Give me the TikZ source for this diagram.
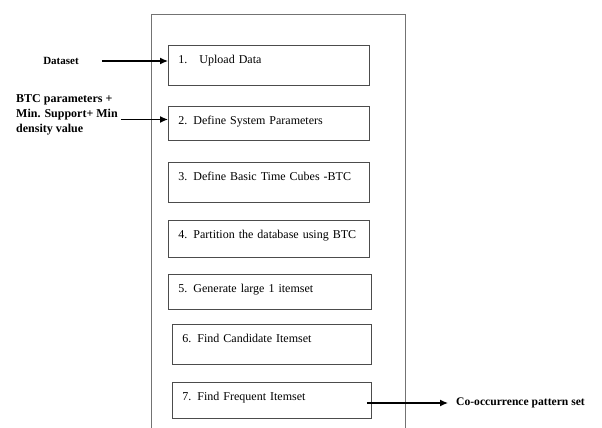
\documentclass[tikz,border=0pt]{standalone}
\usepackage{fontspec}
\setmainfont{Liberation Serif}
\usetikzlibrary{arrows.meta}

\begin{document}
\begin{tikzpicture}[x=1pt, y=-1pt,
    stepbox/.style={draw=black!70, line width=0.9pt, anchor=north west, align=left,
      inner xsep=10pt, inner ysep=0pt, text height=18pt,
      font=\fontsize{12}{14}\selectfont},
    sidelabel/.style={font=\fontsize{11}{15}\selectfont\bfseries, inner sep=0pt},
    flow/.style={-{Latex[length=8pt,width=7pt]}, line width=1.3pt}]

\useasboundingbox (0,0) rectangle (602,428);

% Outer frame (runs off the bottom)
\draw[black!55, line width=0.9pt] (151,428) -- (151,14) -- (405,14) -- (405,428);

% Steps
\node[stepbox, text width=181pt, text depth=22pt] (upload)    at (168,45)  {1.\hspace{12pt}Upload Data};
\node[stepbox, text width=181pt, text depth=16pt] (sysparam)  at (168,106) {2. Define System Parameters};
\node[stepbox, text width=181pt, text depth=22pt] (btc)       at (168,162) {3. Define Basic Time Cubes -BTC};
\node[stepbox, text width=181pt, text depth=19pt] (partition) at (168,220) {4. Partition the database using BTC};
\node[stepbox, text width=183pt, text depth=17pt] (large)     at (168,274) {5. Generate large 1 itemset};
\node[stepbox, text width=179pt, text depth=22pt] (candidate) at (172,324) {6. Find Candidate Itemset};
\node[stepbox, text width=179pt, text depth=18pt] (frequent)  at (172,382) {7. Find Frequent Itemset};

% Inputs and output
\node[sidelabel] (dataset) at (61,61) {Dataset};
\node[sidelabel, anchor=north west, align=left, font=\fontsize{12}{15}\selectfont\bfseries] (params) at (16,94)
  {BTC parameters +\\Min. Support+ Min\\density value};
\node[sidelabel, anchor=west, inner xsep=8pt, font=\fontsize{11.6}{15}\selectfont\bfseries] (output) at (448,403) {Co-occurrence pattern set};

% Arrows
\draw[flow] ([xshift=23pt]dataset.east) -- (upload.west |- dataset.east);
\draw[flow] ([xshift=3pt,yshift=-5pt]params.east) -- ([yshift=-5pt]params.east -| sysparam.west);
\draw[flow] ([xshift=-5pt]frequent.east |- output.west) -- (output.west);

\end{tikzpicture}
\end{document}
